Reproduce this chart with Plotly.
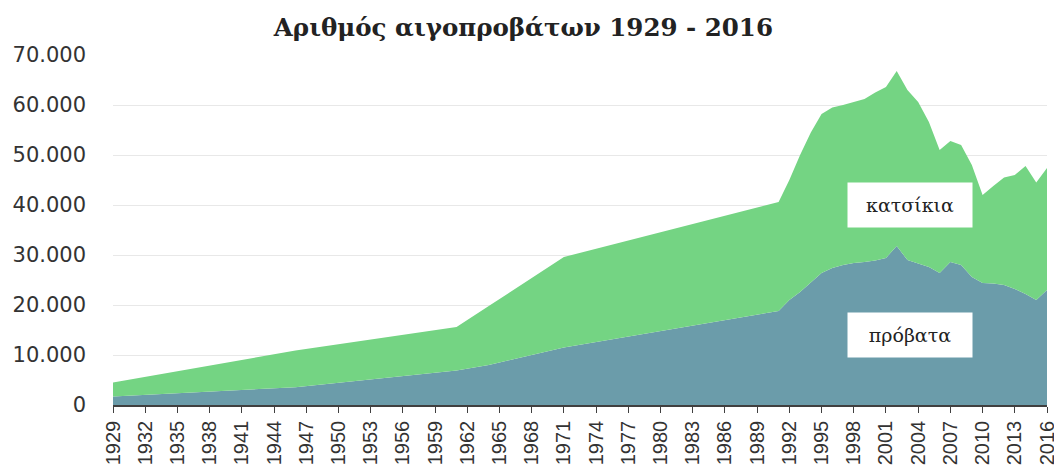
import plotly.graph_objects as go

# Data (as shown on axis, e.g. 70.000)
years = [1929, 1946, 1961, 1964, 1971] + list(range(1991, 2017))
provata = [1700, 3550, 6900, 8000, 11500,
           18800, 21000, 22600, 24500, 26400, 27400, 28000, 28400, 28600, 28900,
           29400, 31800, 29000, 28300, 27600, 26400, 28600, 28000, 25600, 24400,
           24300, 24000, 23200, 22200, 21000, 23000]
katsikia = [2800, 7350, 8700, 11800, 18100,
            21800, 24000, 27400, 30000, 31800, 32100, 32000, 32200, 32600, 33600,
            34200, 35000, 34000, 32300, 29000, 24600, 24200, 24000, 22400, 17600,
            19500, 21500, 22800, 25600, 23500, 24400]
tick_years = list(range(1929, 2017, 3))
y_ticks = list(range(0, 70001, 10000))

title_text = "Αριθμός αιγοπροβάτων 1929 - 2016"
label_goats = "κατσίκια"
label_sheep = "πρόβατα"

fig = go.Figure()
fig.add_trace(go.Scatter(x=years, y=provata, name=label_sheep, stackgroup="one",
                         mode="none", fillcolor="#6b9caa"))
fig.add_trace(go.Scatter(x=years, y=katsikia, name=label_goats, stackgroup="one",
                         mode="none", fillcolor="#74d483"))

for lbl, yv in [(label_goats, 40000), (label_sheep, 14000)]:
    fig.add_annotation(x=2003.2, y=yv, text=lbl, showarrow=False,
                       bgcolor="white", width=104, height=24, borderpad=10,
                       font=dict(family="DejaVu Serif, serif", size=19, color="#222"))

# page body has an 8px margin, so the figure is sized to fit the window
fig.update_layout(
    width=1054, height=460,
    margin=dict(l=105, r=15, t=47, b=63),
    paper_bgcolor="white", plot_bgcolor="white",
    showlegend=False,
    separators=",.",
    title=dict(text="<b>" + title_text + "</b>", x=0.489, xanchor="center",
               y=0.957, yanchor="middle",
               font=dict(family="DejaVu Serif, serif", size=24.5, color="#222")),
    xaxis=dict(range=[1929, 2016], tickvals=tick_years, automargin=False,
               ticktext=[str(y) for y in tick_years], tickangle=-90,
               showgrid=False, ticks="outside", ticklen=6, tickcolor="#404040",
               showline=True, linecolor="#404040", linewidth=1.5,
               tickfont=dict(family="Liberation Sans, sans-serif", size=20, color="#333"),
               zeroline=False),
    yaxis=dict(range=[0, 70000], tickvals=y_ticks, tickformat=",d", automargin=False,
               showgrid=True, gridcolor="#e8e8e8", zeroline=False,
               tickfont=dict(family="DejaVu Sans, sans-serif", size=21, color="#333"),
               ticklabelstandoff=26),
)

fig.write_html("out.html")
